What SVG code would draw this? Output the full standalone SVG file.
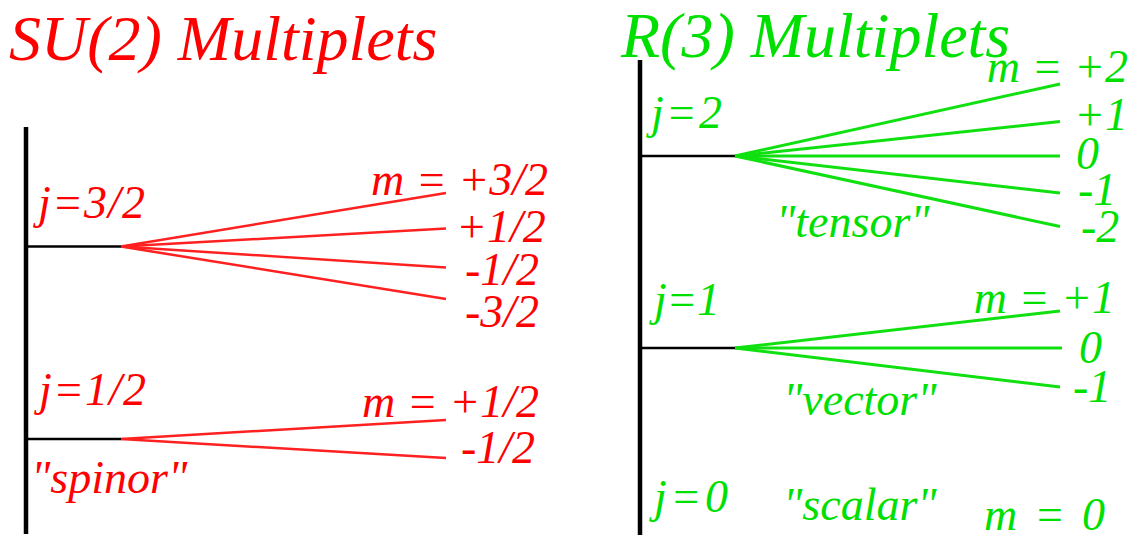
<svg xmlns="http://www.w3.org/2000/svg" width="1131" height="536" viewBox="0 0 1131 536">
<style>
text{font-family:"Liberation Serif","Times New Roman",serif;font-style:italic}
.title{font-size:64px}
.lbl{font-size:46px}
.jl{font-size:46px}
.red{fill:#ff0000}
.grn{fill:#00e000}
.axis{stroke:#000;stroke-width:4.5;fill:none}
.stem{stroke:#000;stroke-width:2.5;fill:none}
.rl{stroke:#ff2020;stroke-width:2.5;fill:none}
.gl{stroke:#10e010;stroke-width:3;fill:none}
.end{text-anchor:end}
</style>
<rect width="1131" height="536" fill="#fff"/>

<g id="title-su2"><text class="title red" x="9" y="60">SU(2) Multiplets</text></g>
<g id="title-r3"><text class="title grn" x="621" y="57">R(3) Multiplets</text></g>

<g id="axes">
<line class="axis" x1="26" y1="127" x2="26" y2="534"/>
<line class="axis" x1="640" y1="60" x2="640" y2="535"/>
</g>

<g id="su2-j32">
<line class="stem" x1="26" y1="246.5" x2="121" y2="246.5"/>
<text class="jl red" x="38" y="218" textLength="107" lengthAdjust="spacing">j=3/2</text>
<text class="lbl red end" x="548" y="195">m = +3/2</text>
<text class="lbl red" x="456" y="242">+1/2</text>
<text class="lbl red" x="465" y="285">-1/2</text>
<text class="lbl red" x="465" y="327">-3/2</text>
</g>

<g id="su2-j12">
<line class="stem" x1="26" y1="439" x2="121" y2="439"/>
<text class="jl red" x="39" y="405" textLength="107" lengthAdjust="spacing">j=1/2</text>
<text class="lbl red end" x="539" y="417">m = +1/2</text>
<text class="lbl red" x="461" y="463">-1/2</text>
<text class="lbl red" x="31" y="493">"spinor"</text>
</g>

<g id="r3-j2">
<line class="stem" x1="640" y1="156" x2="735" y2="156"/>
<text class="jl grn" x="651" y="128" textLength="71" lengthAdjust="spacing">j=2</text>
<text class="lbl grn end" x="1128" y="82">m = +2</text>
<text class="lbl grn" x="1074" y="130">+1</text>
<text class="lbl grn" x="1076" y="169">0</text>
<text class="lbl grn" x="1078" y="205">-1</text>
<text class="lbl grn" x="1081" y="242">-2</text>
<text class="lbl grn" x="776" y="237">"tensor"</text>
</g>

<g id="r3-j1">
<line class="stem" x1="640" y1="348" x2="735" y2="348"/>
<text class="jl grn" x="654" y="315" textLength="66" lengthAdjust="spacing">j=1</text>
<text class="lbl grn end" x="1115" y="313">m = +1</text>
<text class="lbl grn" x="1079" y="363">0</text>
<text class="lbl grn" x="1073" y="402">-1</text>
<text class="lbl grn" x="783" y="415">"vector"</text>
</g>

<g id="r3-j0">
<text class="jl grn" x="654" y="512" textLength="74" lengthAdjust="spacing">j=0</text>
<text class="lbl grn" x="783" y="520">"scalar"</text>
<text class="lbl grn" x="984" y="530" textLength="121" lengthAdjust="spacing">m = 0</text>
</g>

<g id="connectors">
<line class="rl" x1="121" y1="246.5" x2="446" y2="193"/>
<line class="rl" x1="121" y1="246.5" x2="446" y2="228.5"/>
<line class="rl" x1="121" y1="246.5" x2="446" y2="267.5"/>
<line class="rl" x1="121" y1="246.5" x2="446" y2="299"/>
<line class="rl" x1="121" y1="439" x2="446" y2="420"/>
<line class="rl" x1="121" y1="439" x2="446" y2="458"/>
<line class="gl" x1="735" y1="156" x2="1060" y2="84"/>
<line class="gl" x1="735" y1="156" x2="1060" y2="121.5"/>
<line class="gl" x1="735" y1="156" x2="1060" y2="156"/>
<line class="gl" x1="735" y1="156" x2="1060" y2="193"/>
<line class="gl" x1="735" y1="156" x2="1060" y2="226.5"/>
<line class="gl" x1="735" y1="348" x2="1060" y2="311"/>
<line class="gl" x1="735" y1="348" x2="1062" y2="348"/>
<line class="gl" x1="735" y1="348" x2="1060" y2="387"/>
</g>
</svg>
